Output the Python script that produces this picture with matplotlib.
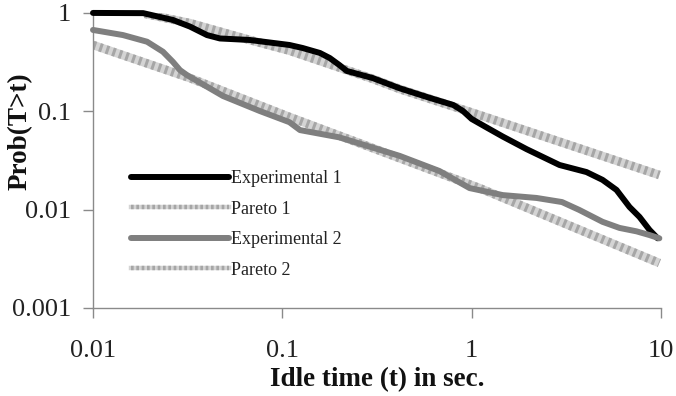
import matplotlib
matplotlib.use('Agg')
import matplotlib.pyplot as plt
from matplotlib.lines import Line2D

plt.rcParams['font.family'] = ['Liberation Serif', 'DejaVu Serif']

# Experimental 1 (black)
t_exp1 = [0.01, 0.0184, 0.0264, 0.0325, 0.040, 0.0468, 0.0673, 0.109, 0.128, 0.158, 0.178, 0.2, 0.219,
          0.3, 0.417, 0.6, 0.8, 0.9, 1.0, 1.2, 1.46, 1.95, 2.91, 4.04, 4.91, 5.82, 6.82, 7.7, 8.7, 9.6]
p_exp1 = [0.99, 0.985, 0.84, 0.72, 0.59, 0.545, 0.526, 0.468, 0.436, 0.388, 0.345, 0.293, 0.255,
          0.216, 0.17, 0.136, 0.115, 0.1, 0.083, 0.068, 0.055, 0.041, 0.0283, 0.024, 0.020, 0.0158, 0.0106, 0.0084, 0.0062, 0.0051]

# Experimental 2 (gray)
t_exp2 = [0.01, 0.0144, 0.0193, 0.0234, 0.0264, 0.0288, 0.0313, 0.0486, 0.076, 0.109, 0.124,
          0.2, 0.417, 0.675, 0.975, 1.46, 2.2, 3.0, 3.7, 4.91, 6.04, 7.43, 8.7, 9.8]
p_exp2 = [0.665, 0.59, 0.505, 0.40, 0.316, 0.26, 0.232, 0.142, 0.1, 0.077, 0.064,
          0.054, 0.035, 0.0246, 0.0165, 0.014, 0.0131, 0.0119, 0.0099, 0.0075, 0.0065, 0.0060, 0.0055, 0.0051]

# Pareto fits
t_par1 = [0.0188, 0.0325, 0.0673, 0.109, 0.3, 0.417, 1.1, 9.8]
p_par1 = [0.97, 0.78, 0.526, 0.41, 0.212, 0.167, 0.091, 0.0224]
t_par2 = [0.01, 0.0325, 0.109, 1.1, 9.8]
p_par2 = [0.468, 0.216, 0.087, 0.0165, 0.00286]

xticks = [0.01, 0.1, 1, 10]
xticklabels = ['0.01', '0.1', '1', '10']
yticks = [0.001, 0.01, 0.1, 1]
yticklabels = ['0.001', '0.01', '0.1', '1']

W, H = 676, 396
fig = plt.figure(figsize=(W / 100, H / 100), dpi=100)
ax = fig.add_axes([93 / W, 1 - 308 / H, (661 - 93) / W, (308 - 12.5) / H])

base_c = '#d4d4d4'
stripe_c = '#a6a6a6'


def pareto(t, p, lw):
    ax.plot(t, p, color=base_c, lw=lw, solid_capstyle='butt', zorder=2)
    ax.plot(t, p, color=stripe_c, lw=lw, dashes=(0.35, 0.45), dash_capstyle='butt', zorder=2)


pareto(t_par1, p_par1, 6.2)
pareto(t_par2, p_par2, 6.2)
ax.plot(t_exp1, p_exp1, color='black', lw=4.3, solid_capstyle='round', solid_joinstyle='round',
        zorder=3, clip_on=False)
ax.plot(t_exp2, p_exp2, color='#7f7f7f', lw=4.3, solid_capstyle='round', solid_joinstyle='round',
        zorder=3, clip_on=False)

ax.set_xscale('log')
ax.set_yscale('log')
ax.set_xlim(0.01, 10)
ax.set_ylim(0.001, 1)
ax.set_xticks(xticks)
ax.set_xticklabels(xticklabels)
ax.set_yticks(yticks)
ax.set_yticklabels(yticklabels)
ax.minorticks_off()
for s in ['top', 'right']:
    ax.spines[s].set_visible(False)
for s in ['left', 'bottom']:
    ax.spines[s].set_color('#8a8a8a')
    ax.spines[s].set_linewidth(1.0)
ax.tick_params(axis='both', direction='out', length=7, width=1.0, color='#8a8a8a',
               labelsize=19, labelcolor='#222222')
ax.tick_params(axis='x', pad=16)
ax.tick_params(axis='y', pad=9)

fig.text(377 / W, 1 - 380 / H, 'Idle time (t) in sec.', fontsize=19.5, fontweight='bold',
         ha='center', va='center', color='#111111')
fig.text(20 / W, 1 - 131 / H, 'Prob(T>t)', fontsize=19.5, fontweight='bold', rotation=90,
         ha='center', va='center', color='#111111')

# legend
h1 = Line2D([], [], color='black', lw=4.3, solid_capstyle='round')
h2 = (Line2D([], [], color=base_c, lw=3.2), Line2D([], [], color=stripe_c, lw=3.2, dashes=(0.6, 0.6)))
h3 = Line2D([], [], color='#7f7f7f', lw=4.3, solid_capstyle='round')
h4 = (Line2D([], [], color=base_c, lw=3.2), Line2D([], [], color=stripe_c, lw=3.2, dashes=(0.6, 0.6)))
leg = ax.legend([h1, h2, h3, h4], ['Experimental 1', 'Pareto 1', 'Experimental 2', 'Pareto 2'],
                loc='upper left', bbox_to_anchor=(131 / W, 1 - 170 / H), bbox_transform=fig.transFigure,
                frameon=False, fontsize=13, handlelength=5.4, handletextpad=0.15,
                labelspacing=0.75, borderpad=0, borderaxespad=0)
for t in leg.get_texts():
    t.set_color('#222222')

fig.savefig('out.png', dpi=100)
